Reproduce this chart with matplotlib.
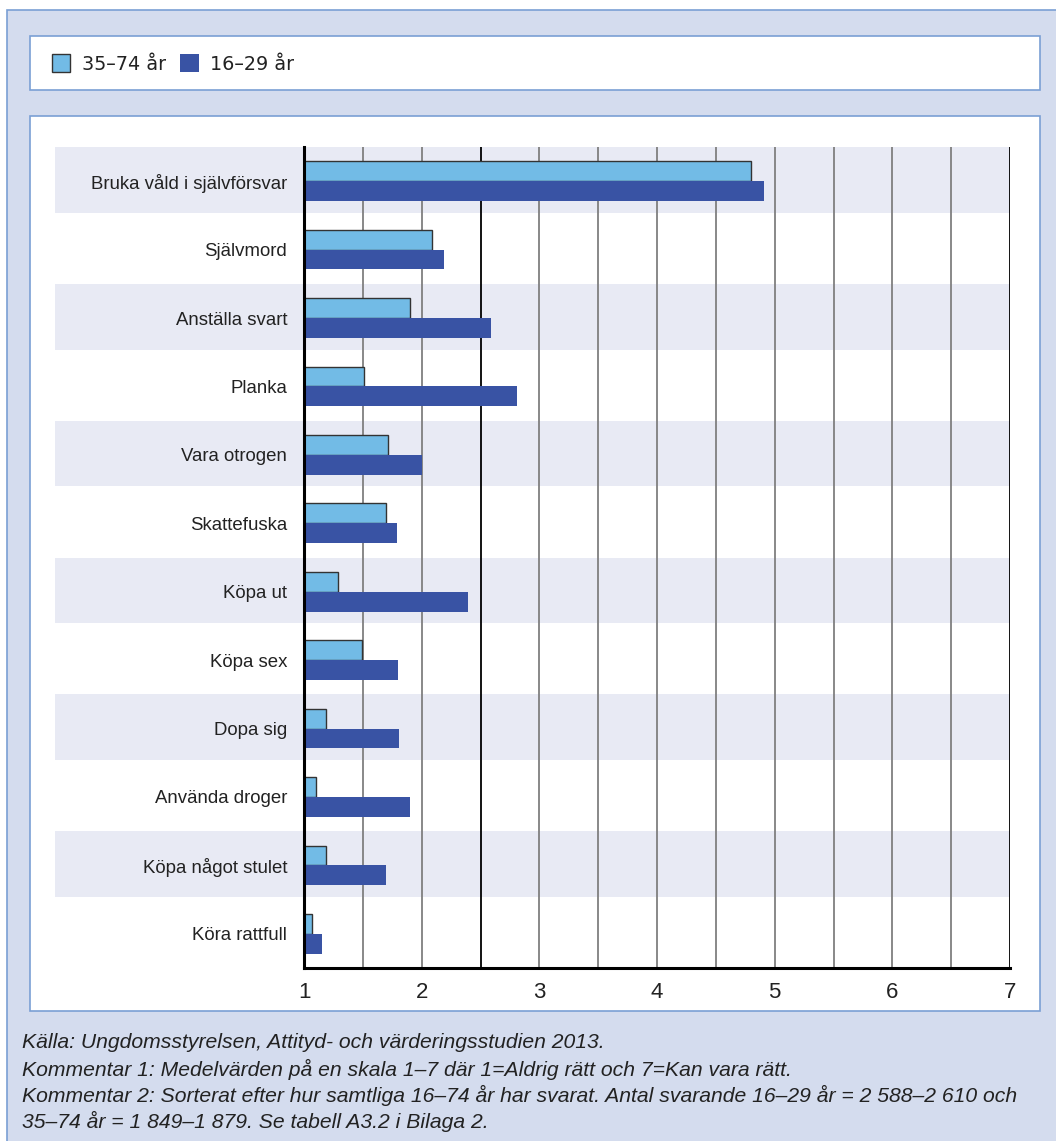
import matplotlib.pyplot as plt
from matplotlib.patches import Rectangle
import numpy as np

plt.rcParams['font.family'] = ['Liberation Sans', 'DejaVu Sans']

categories = ["Bruka våld i självförsvar", "Självmord", "Anställa svart", "Planka",
              "Vara otrogen", "Skattefuska", "Köpa ut", "Köpa sex", "Dopa sig",
              "Använda droger", "Köpa något stulet", "Köra rattfull"]
old = [4.80, 2.09, 1.90, 1.51, 1.71, 1.70, 1.29, 1.49, 1.19, 1.10, 1.19, 1.065]
young = [4.91, 2.19, 2.59, 2.81, 2.00, 1.79, 2.39, 1.80, 1.81, 1.90, 1.70, 1.15]
series_labels = ["35–74 år", "16–29 år"]
xticks = [1, 2, 3, 4, 5, 6, 7]
notes = ["Källa: Ungdomsstyrelsen, Attityd- och värderingsstudien 2013.",
         "Kommentar 1: Medelvärden på en skala 1–7 där 1=Aldrig rätt och 7=Kan vara rätt.",
         "Kommentar 2: Sorterat efter hur samtliga 16–74 år har svarat. Antal svarande 16–29 år = 2 588–2 610 och",
         "35–74 år = 1 849–1 879. Se tabell A3.2 i Bilaga 2."]

W, H = 1056, 1141
light = "#72bbe6"
dark = "#3953a4"
band = "#e8eaf4"
bg = "#d4dcee"
border = "#7a9fd4"

fig = plt.figure(figsize=(W / 100, H / 100), dpi=100, facecolor="white")


def box(x0, y0, x1, y1, fc, ec, lw=1.2):
    # pixel coords (top-left origin) -> figure fraction
    fig.patches.append(Rectangle((x0 / W, 1 - y1 / H), (x1 - x0) / W, (y1 - y0) / H,
                                 transform=fig.transFigure, facecolor=fc, edgecolor=ec,
                                 linewidth=lw, zorder=-10))


box(7, 10, W + 5, H + 5, bg, border)
box(30, 36, 1040, 90, "white", border)
box(30, 116, 1040, 1011, "white", border)

ax = fig.add_axes([304 / W, 1 - 968 / H, (1010 - 304) / W, (968 - 147) / H])
ax.set_facecolor("none")

n = len(categories)
y = np.arange(n)
h = 0.29

for i in range(0, n, 2):
    ax.add_patch(Rectangle((-0.353, i - 0.5), 1.353, 0.96, transform=ax.get_yaxis_transform(),
                           facecolor=band, edgecolor="none", clip_on=False, zorder=0))

for gx in np.arange(1.5, 7.01, 0.5):
    c = "black" if gx in (2.5, 7.0) else "#7f7f7f"
    ax.axvline(gx, color=c, lw=1.3, zorder=1)

ax.barh(y - h / 2, np.array(old) - 1, height=h, left=1, color=light,
        edgecolor="#333333", linewidth=1.0, zorder=3, label=series_labels[0])
ax.barh(y + h / 2, np.array(young) - 1, height=h, left=1, color=dark,
        edgecolor="none", zorder=3, label=series_labels[1])

ax.set_xlim(1, 7)
ax.set_ylim(n - 0.5, -0.5)
ax.set_xticks(xticks)
ax.set_xticklabels([str(t) for t in xticks], fontsize=16, color="#222222")
ax.set_yticks(y)
ax.set_yticklabels(categories, fontsize=13.4, color="#222222")
ax.tick_params(axis="both", length=0)
ax.tick_params(axis="x", pad=10)
ax.tick_params(axis="y", pad=12)
for s in ["top", "right"]:
    ax.spines[s].set_visible(False)
ax.spines["left"].set_linewidth(2.2)
ax.spines["bottom"].set_linewidth(2.2)
ax.spines["left"].set_zorder(5)
ax.spines["bottom"].set_zorder(5)

fig.legend(loc="center left", bbox_to_anchor=(35 / W, 1 - 64 / H), ncol=2, frameon=False,
           prop={"family": "DejaVu Sans", "size": 13.8}, handlelength=0.95, handleheight=1.0,
           handletextpad=0.6, columnspacing=0.75, labelcolor="#222222")

for k, line in enumerate(notes):
    fig.text(22 / W, 1 - (1043 + k * 26.0) / H, line, fontsize=15.2, style="italic",
             color="#222222", va="center", ha="left")

fig.savefig("out.png", dpi=100, facecolor="white")
